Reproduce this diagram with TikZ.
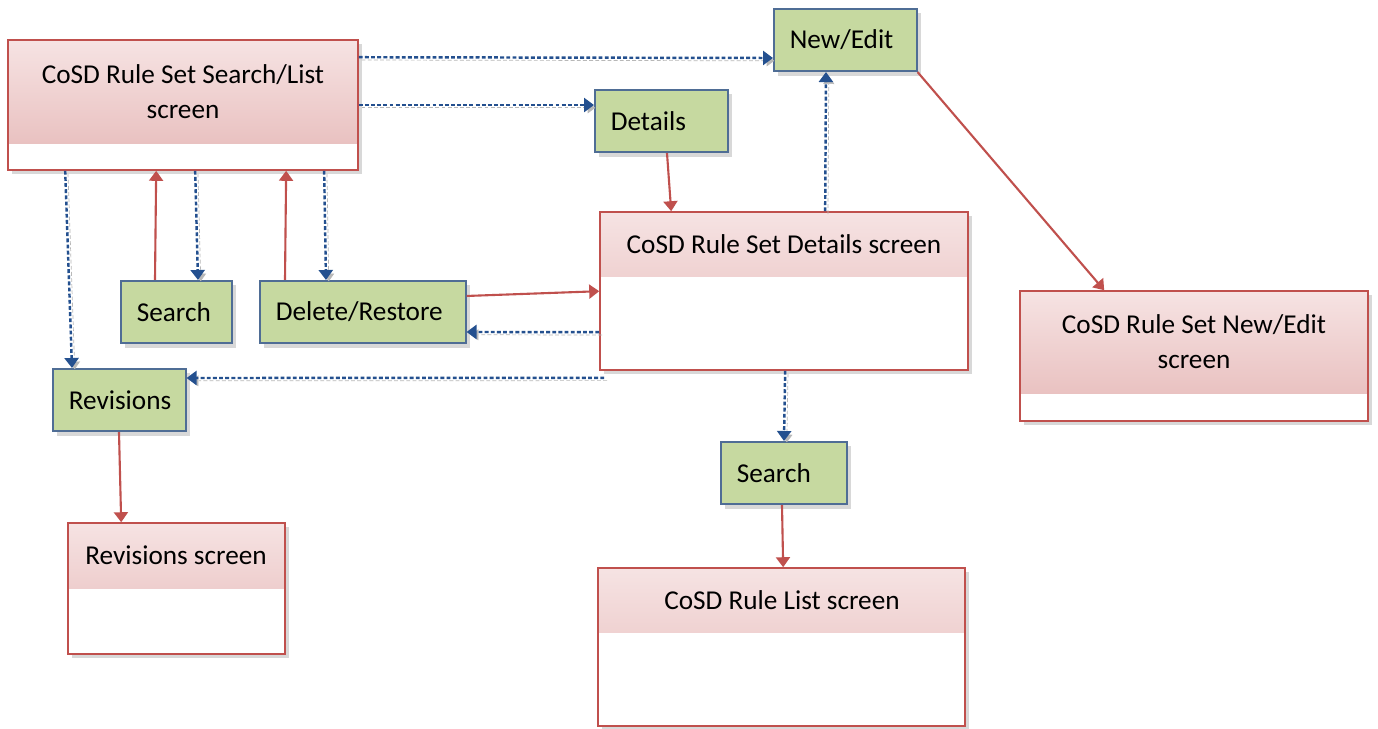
\documentclass[tikz,border=0pt]{standalone}
\usepackage{fontspec}
\setmainfont{Carlito}
\usetikzlibrary{arrows.meta,fit,shadows}
\definecolor{scrred}{HTML}{C0504D}
\definecolor{hdtop}{HTML}{F6E3E3}
\definecolor{hdbot}{HTML}{E6B9B8}
\definecolor{btnfill}{HTML}{C6D9A0}
\definecolor{btnedge}{HTML}{4F6D95}
\definecolor{dashblue}{HTML}{24508F}

\begin{document}
\begin{tikzpicture}[x=0.02cm, y=-0.02cm, font=\fontsize{15.5}{20}\selectfont,
 screen/.style={draw=scrred,line width=0.9pt,fill=white,inner sep=0pt,
  drop shadow={opacity=0.3,shadow xshift=2.5pt,shadow yshift=-2.5pt},
  path picture={\shade[top color=hdtop,bottom color=hdbot] (path picture bounding box.north west) rectangle ([yshift=#1]path picture bounding box.south east);}},
 title/.style={align=center,inner sep=0pt},
 btn/.style={draw=btnedge,line width=0.9pt,fill=btnfill,anchor=west,align=left,inner xsep=0.32cm,minimum height=1.25cm,
  drop shadow={opacity=0.3,shadow xshift=2.5pt,shadow yshift=-2.5pt}},
 flow/.style={draw=scrred,line width=1.2pt,-{Triangle[length=2mm,width=2.8mm]}},
 link/.style={draw=dashblue,line width=1.4pt,dash pattern=on 2.2pt off 1.3pt,-{Triangle[length=2mm,width=2.8mm]},
  preaction={draw=black!28,dash pattern=on 2.2pt off 1.3pt,transform canvas={shift={(1.6pt,-1.6pt)}}}}]
\path[use as bounding box,fill=white] (0,0) rectangle (1378,728);
% screens
\node[screen=0.54cm,fit={(8,40) (358,170)}] (list) {};
\node[title] (listtxt) at (183,92) {CoSD Rule Set Search/List\\screen};
\node[screen=1.88cm,fit={(600,212) (968,370)}] (detscr) {};
\node[title] (detscrtxt) at (784,244) {CoSD Rule Set Details screen};
\node[screen=0.56cm,fit={(1020,291) (1368,421)}] (newscr) {};
\node[title] (newscrtxt) at (1194,342) {CoSD Rule Set New/Edit\\screen};
\node[screen=1.32cm,fit={(68,523) (285,654)}] (revscr) {};
\node[title] (revscrtxt) at (176,555) {Revisions screen};
\node[screen=1.88cm,fit={(598,568) (965,726)}] (rulescr) {};
\node[title] (rulescrtxt) at (782,600) {CoSD Rule List screen};
% actions
\node[btn,text width=2.22cm] (newedit) at (773,40) {New/Edit};
\node[btn,text width=2.02cm] (detbtn) at (594,121) {Details};
\node[btn,text width=1.58cm] (srchbtn) at (120,312) {Search};
\node[btn,text width=3.48cm] (delbtn) at (259,312) {Delete/Restore};
\node[btn,text width=2.02cm] (revbtn) at (52,400) {Revisions};
\node[btn,text width=1.88cm] (srch2btn) at (720,473) {Search};
% connectors
\draw[link] ([yshift=-0.36cm]list.north east) -- ([yshift=-0.36cm]newedit.west);
\draw[link] (list.east) -- (list.east -| detbtn.west);
\draw[link] ([xshift=1.16cm]list.south west) -- ([xshift=0.4cm]revbtn.north west);
\draw[flow] ([xshift=0.7cm]srchbtn.north west) -- ([xshift=2.98cm]list.south west);
\draw[link] ([xshift=3.76cm]list.south west) -- ([xshift=1.56cm]srchbtn.north west);
\draw[flow] ([xshift=0.52cm]delbtn.north west) -- ([xshift=5.58cm]list.south west);
\draw[link] ([xshift=6.34cm]list.south west) -- ([xshift=1.34cm]delbtn.north west);
\draw[flow] ([xshift=1.46cm]detbtn.south west) -- ([xshift=1.44cm]detscr.north west);
\draw[link] ([xshift=4.52cm]detscr.north west) -- ([xshift=1.06cm]newedit.south west);
\draw[flow] (newedit.south east) -- ([xshift=1.7cm]newscr.north west);
\draw[flow] ([yshift=-0.32cm]delbtn.north east) -- ([yshift=-1.6cm]detscr.north west);
\draw[link] ([yshift=-2.42cm]detscr.north west) -- ([yshift=-1.04cm]delbtn.north east);
\draw[link] ([shift={(0.1cm,-0.14cm)}]detscr.south west) -- ([yshift=0.44cm]revbtn.east);
\draw[link] ([xshift=3.72cm]detscr.south west) -- ([xshift=1.28cm]srch2btn.north west);
\draw[flow] ([xshift=1.24cm]srch2btn.south west) -- ([xshift=3.72cm]rulescr.north west);
\draw[flow] ([xshift=1.34cm]revbtn.south west) -- ([xshift=1.08cm]revscr.north west);
\end{tikzpicture}
\end{document}
